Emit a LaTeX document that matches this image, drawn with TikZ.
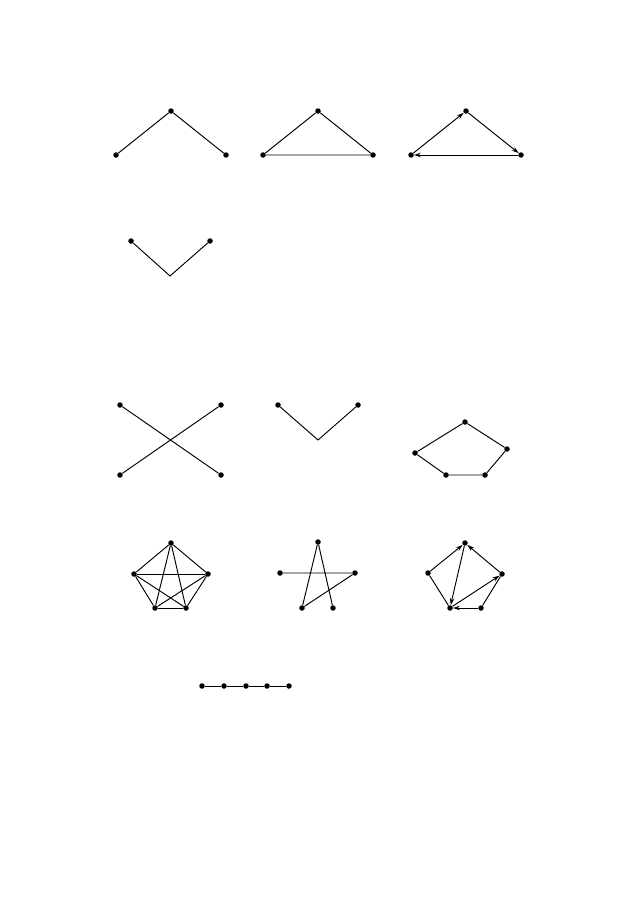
\documentclass[tikz,border=0pt]{standalone}
\usetikzlibrary{arrows.meta}
\begin{document}
\begin{tikzpicture}[x=1pt,y=-1pt,
  dot/.style={circle,fill=black,inner sep=0pt,minimum size=5.5pt},
  edge/.style={line width=0.95pt,black},
  arc/.style={edge,-{Stealth[length=7pt,width=4.5pt]}}]
\useasboundingbox (0,0) rectangle (638,899);
% row 1, graph 1
\node[dot] (a1) at (116,155) {};
\node[dot] (a2) at (171,111) {};
\node[dot] (a3) at (226,155) {};
\draw[edge] (a1) -- (a2) -- (a3);
% row 1, graph 2
\node[dot] (b1) at (263,155) {};
\node[dot] (b2) at (318,111) {};
\node[dot] (b3) at (373,155) {};
\draw[edge] (b1) -- (b2) -- (b3) -- (b1);
% row 1, graph 3 (directed)
\node[dot] (c1) at (411,155) {};
\node[dot] (c2) at (466,111) {};
\node[dot] (c3) at (521,155) {};
\draw[arc] (c1) -- (c2);
\draw[arc] (c2) -- (c3);
\draw[arc] (c3) -- (c1);
% row 2
\node[dot] (d1) at (131,241) {};
\node[dot] (d2) at (210,241) {};
\coordinate (d3) at (170,276);
\draw[edge] (d1) -- (d3) -- (d2);
% row 3, X
\node[dot] (e1) at (120,405) {};
\node[dot] (e2) at (221,405) {};
\node[dot] (e3) at (120,475) {};
\node[dot] (e4) at (221,475) {};
\draw[edge] (e1) -- (e4);
\draw[edge] (e2) -- (e3);
% row 3, V
\node[dot] (f1) at (278,405) {};
\node[dot] (f2) at (358,405) {};
\coordinate (f3) at (318,440);
\draw[edge] (f1) -- (f3) -- (f2);
% row 3, pentagon
\node[dot] (g1) at (465,422) {};
\node[dot] (g2) at (507,449) {};
\node[dot] (g3) at (485,475) {};
\node[dot] (g4) at (446,475) {};
\node[dot] (g5) at (415,453) {};
\draw[edge] (g1) -- (g2) -- (g3) -- (g4) -- (g5) -- (g1);
% row 4, K5
\node[dot] (h1) at (171,543) {};
\node[dot] (h2) at (208,574) {};
\node[dot] (h3) at (186,608) {};
\node[dot] (h4) at (155,608) {};
\node[dot] (h5) at (134,574) {};
\foreach \u/\v in {h1/h2,h1/h3,h1/h4,h1/h5,h2/h3,h2/h4,h2/h5,h3/h4,h3/h5,h4/h5}
  \draw[edge] (\u) -- (\v);
% row 4, star path
\node[dot] (i1) at (318,542) {};
\node[dot] (i2) at (355,573) {};
\node[dot] (i3) at (333,608) {};
\node[dot] (i4) at (302,608) {};
\node[dot] (i5) at (280,573) {};
\draw[edge] (i5) -- (i2) -- (i4) -- (i1) -- (i3);
% row 4, directed pentagon
\node[dot] (j1) at (465,543) {};
\node[dot] (j2) at (502,574) {};
\node[dot] (j3) at (481,608) {};
\node[dot] (j4) at (450,608) {};
\node[dot] (j5) at (428,573) {};
\draw[arc] (j5) -- (j1);
\draw[arc] (j2) -- (j1);
\draw[arc] (j1) -- (j4);
\draw[arc] (j4) -- (j2);
\draw[arc] (j3) -- (j4);
\draw[edge] (j5) -- (j4);
\draw[edge] (j2) -- (j3);
% row 5, path
\node[dot] (k1) at (202,686) {};
\node[dot] (k2) at (224,686) {};
\node[dot] (k3) at (246,686) {};
\node[dot] (k4) at (267,686) {};
\node[dot] (k5) at (289,686) {};
\draw[edge] (k1) -- (k2) -- (k3) -- (k4) -- (k5);
\end{tikzpicture}
\end{document}
